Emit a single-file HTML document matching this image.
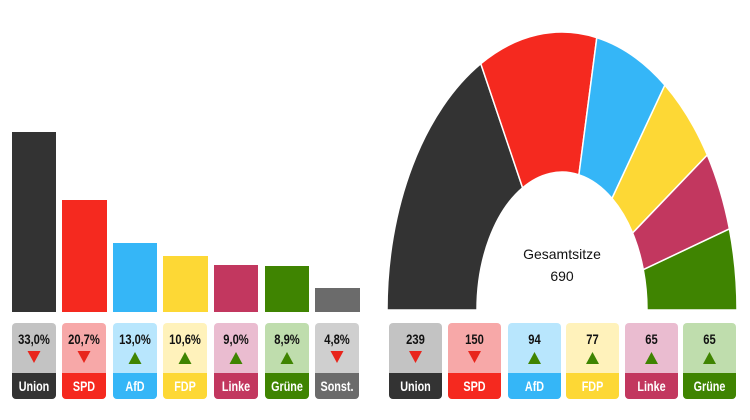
<!DOCTYPE html>
<html><head><meta charset="utf-8"><style>
body{margin:0;width:750px;height:420px;background:#fff;overflow:hidden;font-family:"Liberation Sans",sans-serif;}
svg{position:absolute;left:0;top:0}
</style></head><body>
<svg width="750" height="420" viewBox="0 0 750 420">
<defs><style>
.v{font:bold 14px "Liberation Sans",sans-serif;fill:#111;text-anchor:middle}
.l{font:bold 13.5px "Liberation Sans",sans-serif;fill:#fff;text-anchor:middle}
</style></defs>
<rect x="12" y="132" width="44" height="180" fill="#333"/>
<rect x="62" y="200" width="45" height="112" fill="#f5291f"/>
<rect x="113" y="243" width="44" height="69" fill="#35b6f7"/>
<rect x="163" y="256" width="45" height="56" fill="#fdd835"/>
<rect x="214" y="265" width="44" height="47" fill="#c2375f"/>
<rect x="265" y="266" width="44" height="46" fill="#3f8401"/>
<rect x="315" y="288" width="45" height="24" fill="#6b6b6b"/>
<g stroke="#fff" stroke-width="1.5">
<path d="M387,310 A175,278 0 0 1 480.8,63.7 L522.6,187.8 A85,138 0 0 0 477,310 Z" fill="#333"/>
<path d="M480.8,63.7 A175,278 0 0 1 596.8,37.6 L578.9,174.8 A85,138 0 0 0 522.6,187.8 Z" fill="#f5291f"/>
<path d="M596.8,37.6 A175,278 0 0 1 664.9,85.1 L612,198.4 A85,138 0 0 0 578.9,174.8 Z" fill="#35b6f7"/>
<path d="M664.9,85.1 A175,278 0 0 1 707.3,155 L632.6,233 A85,138 0 0 0 612,198.4 Z" fill="#fdd835"/>
<path d="M707.3,155 A175,278 0 0 1 729.4,228.9 L643.3,269.7 A85,138 0 0 0 632.6,233 Z" fill="#c2375f"/>
<path d="M729.4,228.9 A175,278 0 0 1 737,310 L647,310 A85,138 0 0 0 643.3,269.7 Z" fill="#3f8401"/>
</g>
<text x="562" y="259" text-anchor="middle" font-family="Liberation Sans" font-size="14" fill="#111">Gesamtsitze</text>
<text x="562" y="281" text-anchor="middle" font-family="Liberation Sans" font-size="14" fill="#111">690</text>
</svg>
<script>
const svg=document.querySelector('svg');const NS='http://www.w3.org/2000/svg';
function box(x,w,light,dark,val,up,lab){
 const g=document.createElementNS(NS,'g');
 const c=x+w/2;
 g.innerHTML=`<rect x="${x}" y="323" width="${w}" height="76" rx="4" fill="${light}"/>
 <path d="M${x} 373 h${w} v22 a4 4 0 0 1 -4 4 h${-w+8} a4 4 0 0 1 -4 -4 Z" fill="${dark}"/>
 <text class="v" x="${c}" y="344" transform="translate(${c*0.2},0) scale(0.8,1)">${val}</text>
 ${up?`<path d="M${c-6.5} 364 l6.5 -12 l6.5 12 Z" fill="#3f8401"/>`:`<path d="M${c-6.5} 351 l13 0 l-6.5 12 Z" fill="#e8251c"/>`}
 <text class="l" x="${c}" y="391" transform="translate(${c*0.2},0) scale(0.8,1)">${lab}</text>`;
 svg.appendChild(g);
}
const L=[["#c3c3c3","#333","33,0%",0,"Union"],["#f7a8a8","#f5291f","20,7%",0,"SPD"],["#b8e6fd","#35b6f7","13,0%",1,"AfD"],["#fff2bb","#fdd835","10,6%",1,"FDP"],["#eabcd0","#c2375f","9,0%",1,"Linke"],["#bfddad","#3f8401","8,9%",1,"Grüne"],["#cfcfcf","#6b6b6b","4,8%",0,"Sonst."]];
const lx=[12,62,113,163,214,265,315];
L.forEach((d,i)=>box(lx[i],44,d[0],d[1],d[2],d[3],d[4]));
const R=[["#c3c3c3","#333","239",0,"Union"],["#f7a8a8","#f5291f","150",0,"SPD"],["#b8e6fd","#35b6f7","94",1,"AfD"],["#fff2bb","#fdd835","77",1,"FDP"],["#eabcd0","#c2375f","65",1,"Linke"],["#bfddad","#3f8401","65",1,"Grüne"]];
const rx=[389,448,508,566,625,683];
R.forEach((d,i)=>box(rx[i],53,d[0],d[1],d[2],d[3],d[4]));
</script>
</body></html>
